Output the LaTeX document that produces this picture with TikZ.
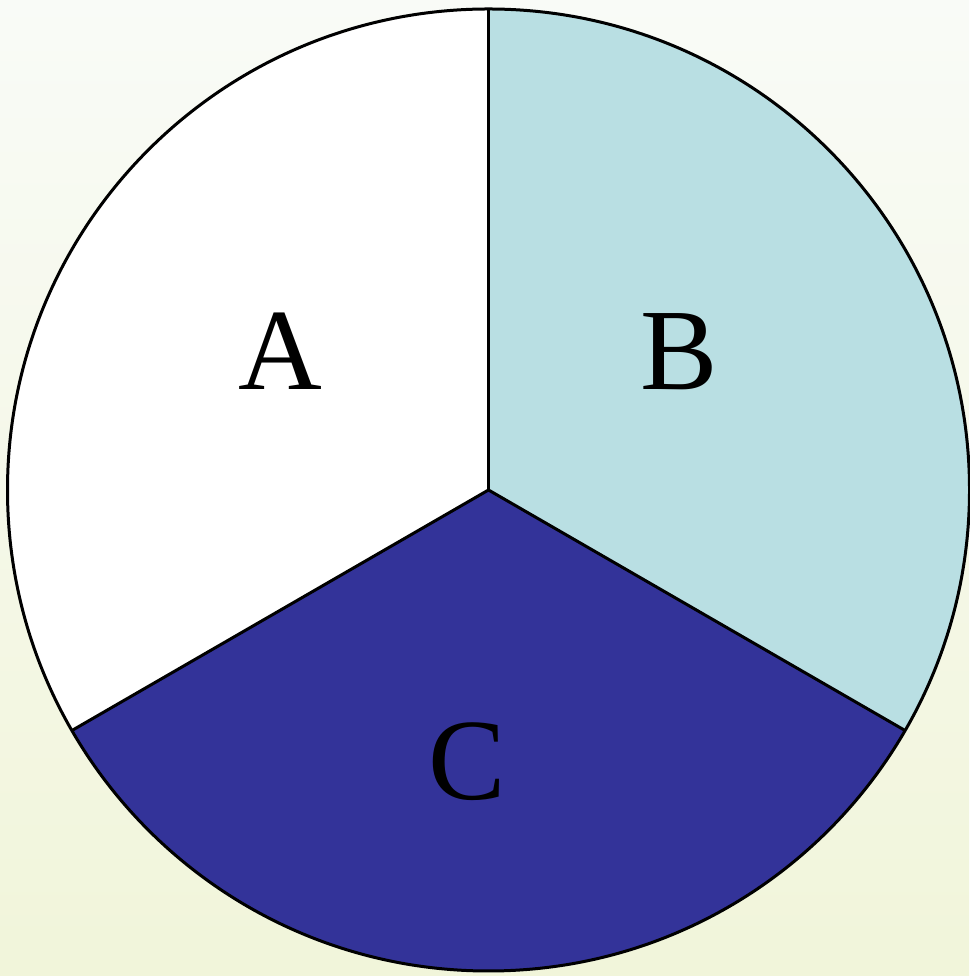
\documentclass[tikz,border=0pt]{standalone}
\usepackage{fontspec}
\setmainfont{Liberation Serif}
\definecolor{bgtop}{HTML}{F9FBF7}
\definecolor{bgmid}{HTML}{FBFCF6}
\definecolor{bgbot}{HTML}{F1F5DA}
\definecolor{secB}{HTML}{B9DFE3}
\definecolor{secC}{HTML}{333399}
\tikzset{
  sector/.style={draw=black, line width=3pt, line join=round},
  lab/.style={anchor=base, inner sep=0pt, font=\fontsize{116}{120}\selectfont}
}
\begin{document}
\begin{tikzpicture}[x=1pt,y=1pt]
\useasboundingbox (0,0) rectangle (969,976);
\shade[top color=bgtop, middle color=bgmid, bottom color=bgbot] (0,0) rectangle (969,976);
\coordinate (O) at (488.5,486);
\fill[white] (O) -- ++(90:481) arc[start angle=90, end angle=210, radius=481] -- cycle;
\fill[secB] (O) -- ++(90:481) arc[start angle=90, end angle=-30, radius=481] -- cycle;
\fill[secC] (O) -- ++(210:481) arc[start angle=210, end angle=330, radius=481] -- cycle;
\draw[line width=3pt] (O) circle[radius=481];
\draw[sector] (O) -- ++(90:481);
\draw[sector] (O) -- ++(210:481);
\draw[sector] (O) -- ++(330:481);
\node[lab] (A) at (280,586) {A};
\node[lab] (B) at (679,586) {B};
\node[lab] (C) at (467,176) {C};
\end{tikzpicture}
\end{document}
